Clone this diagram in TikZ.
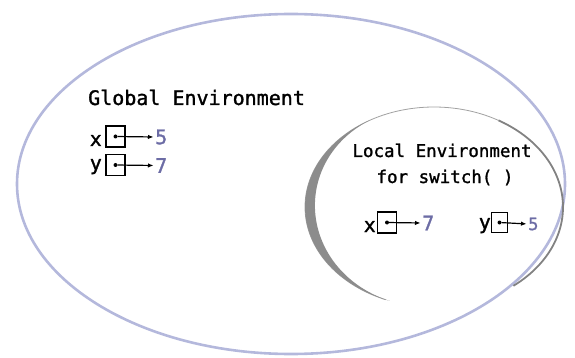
\documentclass[tikz,border=0pt]{standalone}
\usepackage{fontspec}
\newfontfamily\codefont{DejaVu Sans Mono}[FakeBold=1.4]
\usetikzlibrary{arrows.meta}
\definecolor{outerring}{RGB}{180,184,220}
\definecolor{innerring}{RGB}{130,130,130}
\definecolor{crescent}{RGB}{140,140,140}
\definecolor{valuecol}{RGB}{108,108,165}
\begin{document}
\begin{tikzpicture}[x=1pt,y=-1pt,
  envtitle/.style={font=\codefont\fontsize{20}{24}\selectfont, inner sep=0pt},
  localtitle/.style={font=\codefont\fontsize{17.5}{21}\selectfont, inner sep=0pt, anchor=base},
  varname/.style={font=\codefont\fontsize{20}{24}\selectfont, inner sep=0pt, anchor=base east},
  cell/.style={draw, line width=1.2pt, minimum width=19pt, minimum height=21pt, inner sep=0pt},
  smallcell/.style={cell, minimum width=16pt, minimum height=20pt},
  dotmark/.style={circle, fill, inner sep=0pt, minimum size=4pt},
  valnum/.style={font=\codefont\fontsize{20}{24}\selectfont, text=valuecol, inner sep=0pt, anchor=west},
  smallval/.style={valnum, font=\codefont\fontsize{17}{20}\selectfont},
  ptr/.style={line width=1.2pt, -{Latex[length=5.5pt,width=4.5pt]}, shorten >=1.5pt}
]
\useasboundingbox (0,0) rectangle (575,358);

% global environment
\draw[outerring, line width=2.6pt] (291,184) ellipse [x radius=274pt, y radius=170pt];

% local environment: outline open at the bottom
\draw[innerring!75, line width=0.8pt]
  plot[domain=112:300, samples=120] ({434+129*cos(\x)},{207+100*sin(\x)});
\draw[innerring, line width=1.8pt]
  plot[domain=300:412, samples=80] ({434+129*cos(\x)},{207+100*sin(\x)});
% shaded crescent along its left side
\fill[crescent]
  plot[domain=240:110, samples=90] ({434+129*cos(\x)},{207+100*sin(\x)})
  -- plot[domain=110:240, samples=90]
     ({434+129*cos(\x)+10*sin((\x-110)*1.3846)},{207+100*sin(\x)}) -- cycle;

% titles
\node[envtitle, anchor=base west] (gtitle) at (88,105) {Global Environment};
\node[localtitle] (ltitle) at (442,157) {Local Environment};
\node[localtitle] (lsub) at (445,183) {for switch( )};

% global bindings
\node[varname] (gxname) at (102,146) {x};
\node[cell] (gxcell) at (115.5,136.5) {};
\node[dotmark] (gxdot) at (gxcell.center) {};
\node[valnum] (gxval) at (155,137) {5};
\draw[ptr] (gxdot) -- (gxval.west);

\node[varname] (gyname) at (102,170) {y};
\node[cell] (gycell) at (115.5,165) {};
\node[dotmark] (gydot) at (gycell.center) {};
\node[valnum] (gyval) at (155,165.5) {7};
\draw[ptr] (gydot) -- (gyval.west);

% local bindings
\node[varname] (lxname) at (376,232) {x};
\node[cell] (lxcell) at (387,222.5) {};
\node[dotmark] (lxdot) at (lxcell.center) {};
\node[valnum] (lxval) at (422,223) {7};
\draw[ptr] (lxdot) -- (lxval.west);

\node[varname] (lyname) at (491,229) {y};
\node[smallcell] (lycell) at (499.5,222.5) {};
\node[dotmark] (lydot) at (lycell.center) {};
\node[smallval] (lyval) at (528,224) {5};
\draw[ptr] (lydot) -- (lyval.west);
\end{tikzpicture}
\end{document}
